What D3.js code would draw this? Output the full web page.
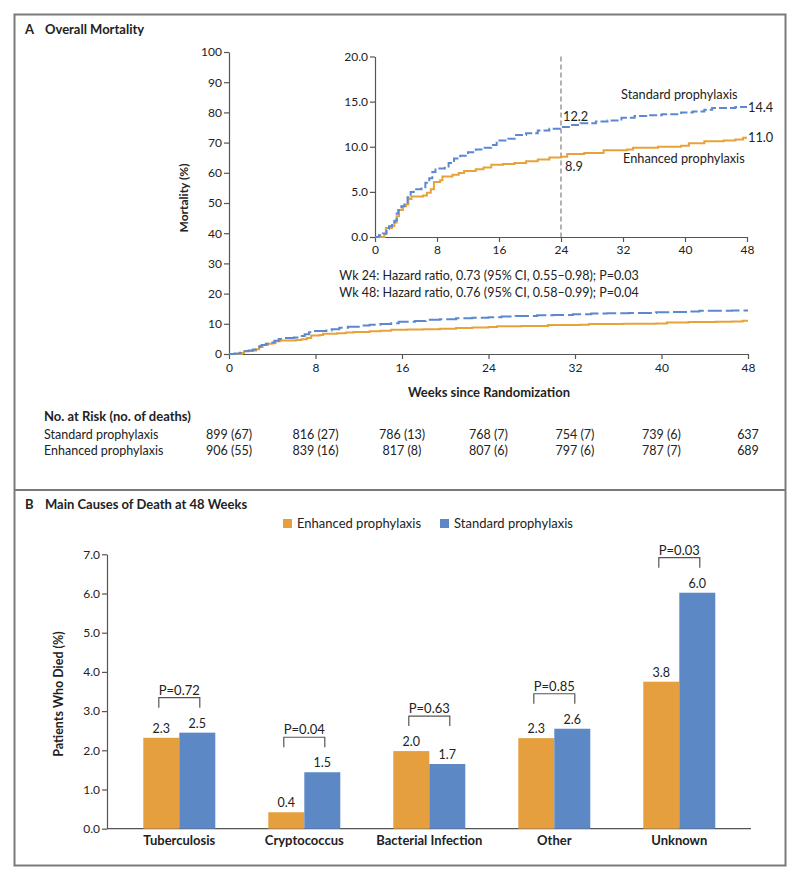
<!DOCTYPE html>
<html><head><meta charset="utf-8">
<script src="https://cdn.jsdelivr.net/npm/d3@7"></script>
<style>
body{margin:0;background:#fff;}
svg text{font-family:Lato,"Open Sans",sans-serif;fill:#222;}
</style></head><body>
<svg id="c" width="800" height="880"></svg>
<script>
// ---------------- DATA ----------------
const weekTicks = [0, 8, 16, 24, 32, 40, 48];
const mainYTicks = [0, 10, 20, 30, 40, 50, 60, 70, 80, 90, 100];
const insetYTicks = [0, 5, 10, 15, 20];

const standardWeeks = [0,0.5,1.0,1.5,1.8,2.2,2.5,2.8,3.0,3.4,3.8,4.2,4.6,5.0,6.0,6.5,7.0,7.4,7.8,9.0,9.5,10.2,11.0,12.0,13.0,14.0,15.0,15.7,17.2,18.2,19.5,21.0,22.5,24.0,25.2,26.5,28.5,30.0,31.8,33.5,35.0,37.0,39.5,41.0,42.5,43.5,46.5,48];
const standardMortality = [0,0.2,0.4,0.9,1.2,1.5,1.8,2.6,3.0,3.4,3.8,4.4,5.0,5.3,5.5,6.0,6.5,7.2,7.6,7.8,8.2,8.7,9.0,9.4,9.7,9.9,10.2,10.7,10.9,11.3,11.5,11.8,12.0,12.2,12.4,12.6,12.8,12.9,13.2,13.4,13.5,13.6,13.8,13.9,14.1,14.3,14.4,14.4];

const enhancedWeeks = [0,1.2,1.4,2.2,2.5,2.8,3.1,3.6,4.0,4.3,4.7,6.2,6.7,7.2,7.6,8.4,8.7,10.0,10.8,11.5,13.0,14.0,15.0,16.5,18.0,19.5,21.0,22.5,24.0,24.8,27.0,29.5,32.5,33.3,36.5,39.5,40.5,42.5,45.0,46.5,47.5,48];
const enhancedMortality = [0,0.3,1.0,1.2,1.6,2.3,3.0,3.4,3.6,4.2,4.5,4.6,4.9,5.3,6.1,6.3,6.7,6.9,7.1,7.3,7.5,7.7,8.0,8.1,8.2,8.4,8.6,8.8,8.9,9.2,9.3,9.6,9.7,9.9,10.0,10.1,10.4,10.6,10.7,10.8,11.0,11.0];

const atRiskStandard = ["899 (67)","816 (27)","786 (13)","768 (7)","754 (7)","739 (6)","637"];
const atRiskEnhanced = ["906 (55)","839 (16)","817 (8)","807 (6)","797 (6)","787 (7)","689"];
const hazardLines = ["Wk 24: Hazard ratio, 0.73 (95% CI, 0.55\u20130.98); P=0.03",
                     "Wk 48: Hazard ratio, 0.76 (95% CI, 0.58\u20130.99); P=0.04"];

const causes = ["Tuberculosis","Cryptococcus","Bacterial Infection","Other","Unknown"];
const groups = ["Enhanced prophylaxis","Standard prophylaxis"];
const enhancedDied = [2.32,0.42,1.98,2.31,3.75];
const standardDied = [2.45,1.44,1.65,2.55,6.02];
const enhancedLabels = ["2.3","0.4","2.0","2.3","3.8"];
const standardLabels = ["2.5","1.5","1.7","2.6","6.0"];
const pValues = ["P=0.72","P=0.04","P=0.63","P=0.85","P=0.03"];
const barYTicks = [0,1,2,3,4,5,6,7];

// ---------------- STYLE ----------------
const ORANGE = "#E8A23A", BLUE = "#5B88CF";
const BAR_OR = "#E59F3E", BAR_BL = "#5C88C5";
const AXIS = "#555";

const svg = d3.select("#c");

// frame
svg.append("rect").attr("x",14.5).attr("y",14.5).attr("width",771).attr("height",851)
  .attr("fill","none").attr("stroke","#7a7a7a").attr("stroke-width",2);
svg.append("line").attr("x1",14.5).attr("x2",785.5).attr("y1",490).attr("y2",490)
  .attr("stroke","#7a7a7a").attr("stroke-width",2);

function styleAxis(g){
  g.selectAll("path,line").attr("stroke",AXIS).attr("stroke-width",1.2);
  g.selectAll("text").style("font-size","12px").attr("fill","#333");
}

// ---------------- PANEL A ----------------
svg.append("text").attr("x",25).attr("y",34).style("font-size","13px").style("font-weight","700").text("A");
svg.append("text").attr("x",45).attr("y",34).style("font-size","13px").style("font-weight","700").text("Overall Mortality");

const xMain = d3.scaleLinear().domain([0,48]).range([229,748]);
const yMain = d3.scaleLinear().domain([0,100]).range([354,52]);

svg.append("g").attr("transform","translate(229,0)")
  .call(d3.axisLeft(yMain).tickValues(mainYTicks).tickSize(5).tickSizeOuter(0).tickPadding(2))
  .call(styleAxis);
svg.append("g").attr("transform","translate(0,354)")
  .call(d3.axisBottom(xMain).tickValues(weekTicks).tickSize(5).tickSizeOuter(0).tickPadding(4))
  .call(styleAxis);

svg.append("text").attr("transform","translate(188,198) rotate(-90)").attr("text-anchor","middle")
  .style("font-size","12px").style("font-weight","700").text("Mortality (%)");
svg.append("text").attr("x",489).attr("y",397).attr("text-anchor","middle")
  .style("font-size","13px").style("font-weight","700").text("Weeks since Randomization");

const stdData = standardWeeks.map((w,i)=>[w,standardMortality[i]]);
const enhData = enhancedWeeks.map((w,i)=>[w,enhancedMortality[i]]);

const lineMain = d3.line().x(d=>xMain(d[0])).y(d=>yMain(d[1])).curve(d3.curveStepAfter);
svg.append("path").attr("d",lineMain(enhData)).attr("fill","none").attr("stroke",ORANGE).attr("stroke-width",2);
svg.append("path").attr("d",lineMain(stdData)).attr("fill","none").attr("stroke",BLUE).attr("stroke-width",2)
  .attr("stroke-dasharray","14,4");

// inset
const xIn = d3.scaleLinear().domain([0,48]).range([375,747]);
const yIn = d3.scaleLinear().domain([0,20]).range([237,56.5]);
svg.append("g").attr("transform","translate(375,0)")
  .call(d3.axisLeft(yIn).tickValues(insetYTicks).tickFormat(d3.format(".1f")).tickSize(5).tickSizeOuter(0).tickPadding(2))
  .call(styleAxis);
svg.append("g").attr("transform","translate(0,237)")
  .call(d3.axisBottom(xIn).tickValues(weekTicks).tickSize(5).tickSizeOuter(0).tickPadding(3))
  .call(styleAxis);

svg.append("line").attr("x1",xIn(24)).attr("x2",xIn(24)).attr("y1",yIn(20)).attr("y2",yIn(0))
  .attr("stroke","#999").attr("stroke-width",1.5).attr("stroke-dasharray","5,3");

const lineIn = d3.line().x(d=>xIn(d[0])).y(d=>yIn(d[1])).curve(d3.curveStepAfter);
svg.append("path").attr("d",lineIn(enhData)).attr("fill","none").attr("stroke",ORANGE).attr("stroke-width",2);
svg.append("path").attr("d",lineIn(stdData)).attr("fill","none").attr("stroke",BLUE).attr("stroke-width",2)
  .attr("stroke-dasharray","8,3");

const lab = (x,y,t,anchor)=>svg.append("text").attr("x",x).attr("y",y).attr("text-anchor",anchor||"start")
  .style("font-size","12.75px").text(t);
lab(621,99,"Standard prophylaxis");
lab(623,163,"Enhanced prophylaxis");
lab(xIn(48)+1, yIn(standardMortality[standardMortality.length-1])+5, "14.4");
lab(xIn(48)+1, yIn(enhancedMortality[enhancedMortality.length-1])+4, "11.0");
lab(xIn(24)+2, 121, "12.2");
lab(xIn(24)+4, 171, "8.9");

hazardLines.forEach((t,i)=>{
  svg.append("text").attr("x",489).attr("y",280+i*17).attr("text-anchor","middle")
    .style("font-size","12.5px").text(t);
});

// at risk table
svg.append("text").attr("x",44).attr("y",421).style("font-size","13px").style("font-weight","700").text("No. at Risk (no. of deaths)");
svg.append("text").attr("x",44).attr("y",439).style("font-size","12.5px").text("Standard prophylaxis");
svg.append("text").attr("x",44).attr("y",455).style("font-size","12.5px").text("Enhanced prophylaxis");
weekTicks.forEach((w,i)=>{
  svg.append("text").attr("x",xMain(w)).attr("y",439).attr("text-anchor","middle").style("font-size","12.5px").text(atRiskStandard[i]);
  svg.append("text").attr("x",xMain(w)).attr("y",455).attr("text-anchor","middle").style("font-size","12.5px").text(atRiskEnhanced[i]);
});

// ---------------- PANEL B ----------------
svg.append("text").attr("x",25).attr("y",509).style("font-size","13px").style("font-weight","700").text("B");
svg.append("text").attr("x",45).attr("y",509).style("font-size","13px").style("font-weight","700").text("Main Causes of Death at 48 Weeks");

// legend
const legend = [[groups[0],BAR_OR,283],[groups[1],BAR_BL,440]];
legend.forEach(([t,c,x])=>{
  svg.append("rect").attr("x",x).attr("y",519).attr("width",9).attr("height",9).attr("fill",c);
  svg.append("text").attr("x",x+14).attr("y",528).style("font-size","13px").text(t);
});

const yBar = d3.scaleLinear().domain([0,7]).range([828.7,554.3]);
const x0 = d3.scaleBand().domain(causes).range([116.8,741.8]).paddingInner(0.424).paddingOuter(0.212);
const x1 = d3.scaleBand().domain(groups).range([0,x0.bandwidth()]);

svg.append("g").attr("transform","translate(107,0)")
  .call(d3.axisLeft(yBar).tickValues(barYTicks).tickFormat(d3.format(".1f")).tickSize(5).tickSizeOuter(0).tickPadding(2))
  .call(styleAxis);
svg.append("line").attr("x1",107).attr("x2",751).attr("y1",yBar(0)).attr("y2",yBar(0))
  .attr("stroke",AXIS).attr("stroke-width",1.2);

svg.append("text").attr("transform","translate(63,694) rotate(-90)").attr("text-anchor","middle")
  .style("font-size","12.5px").style("font-weight","700").text("Patients Who Died (%)");

causes.forEach((c,i)=>{
  const vals = [enhancedDied[i], standardDied[i]];
  const labs = [enhancedLabels[i], standardLabels[i]];
  const cols = [BAR_OR, BAR_BL];
  groups.forEach((g,j)=>{
    const bx = x0(c)+x1(g);
    svg.append("rect").attr("x",bx).attr("y",yBar(vals[j])).attr("width",x1.bandwidth())
      .attr("height",yBar(0)-yBar(vals[j])).attr("fill",cols[j]);
    svg.append("text").attr("x",bx+x1.bandwidth()/2).attr("y",yBar(vals[j])-5).attr("text-anchor","middle")
      .style("font-size","12.5px").attr("fill","#333").text(labs[j]);
  });
  // bracket
  const top = yBar(Math.max(...vals)) - 35;
  const cx = x0(c)+x0.bandwidth()/2;
  const bl = cx-20.5, br = cx+20.5;
  svg.append("path").attr("d",`M${bl},${top+10}V${top}H${br}V${top+10}`)
    .attr("fill","none").attr("stroke","#555").attr("stroke-width",1.2);
  svg.append("text").attr("x",cx).attr("y",top-3).attr("text-anchor","middle")
    .style("font-size","13px").attr("fill","#333").text(pValues[i]);
  svg.append("text").attr("x",cx).attr("y",845).attr("text-anchor","middle")
    .style("font-size","13px").style("font-weight","700").text(c);
});
</script></body></html>
